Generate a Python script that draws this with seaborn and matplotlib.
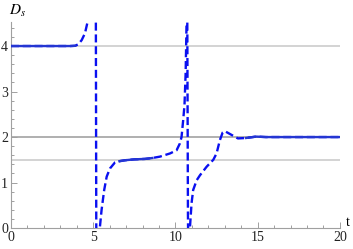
import numpy as np
import matplotlib
matplotlib.use('Agg')
import matplotlib.pyplot as plt
import seaborn as sns
from matplotlib.ticker import MultipleLocator

# valores (t, D_s)
t = [0, 1, 2, 3, 3.6, 3.9, 4.1, 4.3, 4.5, 4.64, 4.75, 4.9, 5.1, 5.16, 5.19, 5.3, 5.38,
     5.41, 5.51, 5.67, 5.82, 6.02, 6.32, 6.6, 6.93, 7.5, 8.15, 8.6, 9.06, 9.67, 10.07,
     10.27, 10.37, 10.47, 10.55, 10.62, 10.68, 10.7, 10.72, 10.76, 10.78, 10.84, 10.88,
     10.98, 11.08, 11.29, 11.49, 11.9, 12.3, 12.5, 12.7, 12.87, 13.0, 13.3, 13.8, 14.3,
     14.9, 15.5, 17, 20]
D = [4.0, 4.0, 4.0, 4.0, 4.0, 4.005, 4.04, 4.13, 4.28, 4.5, 4.8, 6.0, 6.0, 5.0, -0.5, -1.0, -0.3,
     0.03, 0.40, 0.84, 1.13, 1.31, 1.44, 1.47, 1.49, 1.51, 1.52, 1.54, 1.57, 1.64, 1.71,
     1.86, 2.0, 2.37, 2.7, 3.4, 4.6, 5.5, 4.6, 0.3, -0.5, -0.5, 0.0,
     0.55, 0.84, 1.05, 1.16, 1.35, 1.5, 1.64, 1.93, 2.1, 2.13, 2.07, 1.97, 1.98,
     2.01, 2.0, 2.0, 2.0]
ref_levels = [4, 2, 1.5]
ref_colors = ['#c8c8c8', '#9a9a9a', '#c8c8c8']
solid_ranges = [(0, 3.9), (6.4, 8.6), (14.2, 20)]

plt.rcParams['font.family'] = ['Liberation Serif', 'DejaVu Serif']
plt.rcParams['mathtext.fontset'] = 'stix'

fig = plt.figure(figsize=(3.53, 2.49), dpi=100)
ax = fig.add_axes([0.031, 0.084, 0.932, 0.828])

for lvl, c in zip(ref_levels, ref_colors):
    ax.axhline(lvl, color=c, lw=1.1, zorder=1)

t_arr = np.array(t)
D_arr = np.array(D)
sns.lineplot(x=t_arr, y=D_arr, sort=False, estimator=None, ax=ax,
             color='#0a10f0', lw=1.7, dashes=False, linestyle=(0, (3.4, 1.6)), zorder=3)
for a, b in solid_ranges:
    m = (t_arr >= a) & (t_arr <= b)
    ax.plot(t_arr[m], D_arr[m], color='#2436d2', lw=1.7, zorder=4)

ax.set_xlim(0, 20)
ax.set_ylim(0, 4.53)
ax.xaxis.set_major_locator(MultipleLocator(5))
ax.xaxis.set_minor_locator(MultipleLocator(1))
ax.yaxis.set_major_locator(MultipleLocator(1))
ax.yaxis.set_minor_locator(MultipleLocator(0.2))

for s in ['top', 'right']:
    ax.spines[s].set_visible(False)
for s in ['left', 'bottom']:
    ax.spines[s].set_color('#a0a0a0')
    ax.spines[s].set_linewidth(0.8)
ax.tick_params(which='both', direction='in', color='#a0a0a0', width=0.7,
               labelsize=10, labelcolor='#222222')
ax.tick_params(which='major', length=4, pad=2)
ax.tick_params(which='minor', length=2.2)

fig.text(0.025, 0.955, r'$D_s$', fontsize=11, va='center', ha='left')
fig.text(0.986, 0.108, 't', fontsize=10, va='center', ha='center')

fig.savefig('out.png', dpi=100)
